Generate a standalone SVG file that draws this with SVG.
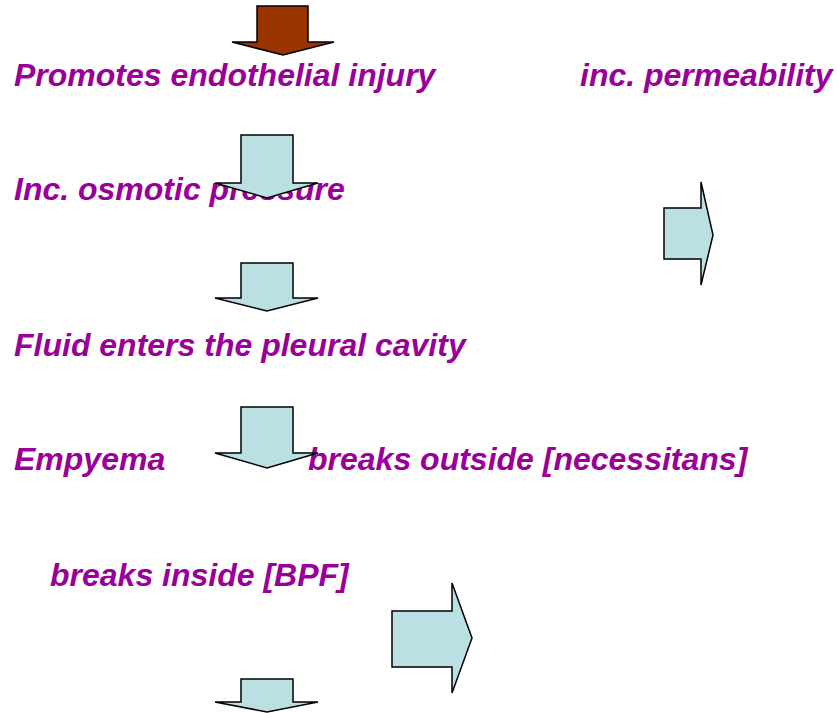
<svg xmlns="http://www.w3.org/2000/svg" width="837" height="713" viewBox="0 0 837 713">
<style>
.t{font-family:"Liberation Sans",Arial,sans-serif;font-weight:bold;font-style:italic;font-size:32px;fill:#990099}
.a{fill:#BBE0E3;stroke:#000;stroke-width:1.5;stroke-linejoin:miter}
.b{fill:#993300;stroke:#000;stroke-width:1.5}
</style>
<rect width="837" height="713" fill="#fff"/>
<g id="n1"><text class="t" x="14" y="86">Promotes endothelial injury</text></g>
<g id="n2"><text class="t" x="580" y="86">inc. permeability</text></g>
<g id="n3"><text class="t" x="14" y="200">Inc. osmotic pressure</text></g>
<g id="n4"><text class="t" x="14" y="356">Fluid enters the pleural cavity</text></g>
<g id="n5"><text class="t" x="14" y="470">Empyema</text></g>
<g id="n6"><text class="t" x="308" y="470">breaks outside [necessitans]</text></g>
<g id="n7"><text class="t" x="50" y="586">breaks inside [BPF]</text></g>
<g id="connectors">
<polygon id="arrow1" class="b" points="257,6 308,6 308,42 334,42 283,55 232,42 257,42"/>
<polygon id="arrow2" class="a" points="241,135 293,135 293,183 318,183 267,198 215,183 241,183"/>
<polygon id="arrow3" class="a" points="241,263 293,263 293,298 318,298 267,311 215,298 241,298"/>
<polygon id="arrow4" class="a" points="241,407 293,407 293,453 318,453 267,468 215,453 241,453"/>
<polygon id="arrow5" class="a" points="241,679 293,679 293,702 318,702 267,712 215,702 241,702"/>
<polygon id="arrow6" class="a" points="664,208 701,208 701,182 713,235 701,285 701,259 664,259"/>
<polygon id="arrow7" class="a" points="392,611 452,611 452,583 472,638 452,693 452,667 392,667"/>
</g>
</svg>
